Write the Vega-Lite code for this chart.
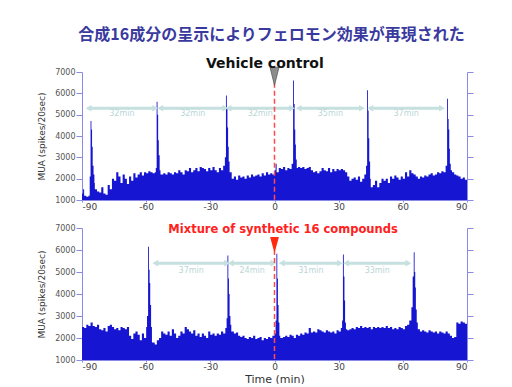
{
"$schema": "https://vega.github.io/schema/vega-lite/v6.json",
"background": "white",
"padding": {"left": 37, "top": 27, "right": 5, "bottom": 0},
"title": {"text": "合成16成分の呈示によりフェロモン効果が再現された", "font": "Noto Sans CJK JP", "fontSize": 16, "fontWeight": "bold", "color": "#3a3a9e", "anchor": "middle", "dx": 16, "offset": 14},
"spacing": 13,
"datasets": {
"vehicle": [
{"t":-90,"v":1300},{"t":-89.5,"v":1500},{"t":-89,"v":1200},{"t":-88,"v":1150},{"t":-87,"v":1200},{"t":-86.4,"v":2100},{"t":-86,"v":4700},{"t":-85.6,"v":4300},{"t":-85.3,"v":3500},{"t":-85,"v":2600},{"t":-84.6,"v":2200},{"t":-84.2,"v":1800},{"t":-84,"v":1500},{"t":-83,"v":1400},{"t":-82,"v":1350},{"t":-81,"v":1600},{"t":-80,"v":1300},{"t":-79,"v":1250},{"t":-78,"v":1700},{"t":-77,"v":1500},{"t":-76,"v":2000},{"t":-75,"v":1900},{"t":-74,"v":2300},{"t":-73,"v":2100},{"t":-72,"v":1800},{"t":-71,"v":2200},{"t":-70,"v":2000},{"t":-69,"v":1750},{"t":-68,"v":2100},{"t":-67,"v":1900},{"t":-66,"v":2250},{"t":-65,"v":2050},{"t":-64,"v":2200},{"t":-63,"v":2300},{"t":-62,"v":2150},{"t":-61,"v":2300},{"t":-60,"v":2250},{"t":-59,"v":2350},{"t":-58,"v":2300},{"t":-57,"v":2250},{"t":-56,"v":2300},{"t":-55.5,"v":2500},{"t":-55.1,"v":5600},{"t":-54.7,"v":5000},{"t":-54.4,"v":3800},{"t":-54.1,"v":3100},{"t":-53.7,"v":2400},{"t":-53.3,"v":2200},{"t":-52,"v":2250},{"t":-51,"v":2200},{"t":-50,"v":2300},{"t":-49,"v":2250},{"t":-48,"v":2200},{"t":-47,"v":2300},{"t":-46,"v":2250},{"t":-45,"v":2400},{"t":-44,"v":2300},{"t":-43,"v":2200},{"t":-42,"v":2400},{"t":-41,"v":2350},{"t":-40,"v":2500},{"t":-39,"v":2300},{"t":-38,"v":2400},{"t":-37,"v":2500},{"t":-36,"v":2350},{"t":-35,"v":2550},{"t":-34,"v":2500},{"t":-33,"v":2450},{"t":-32,"v":2350},{"t":-31,"v":2500},{"t":-30,"v":2400},{"t":-29,"v":2550},{"t":-28,"v":2400},{"t":-27,"v":2300},{"t":-26,"v":2500},{"t":-25,"v":2400},{"t":-24,"v":2600},{"t":-23.2,"v":3000},{"t":-22.7,"v":5900},{"t":-22.3,"v":5300},{"t":-22,"v":4400},{"t":-21.7,"v":3500},{"t":-21.4,"v":2800},{"t":-21,"v":2300},{"t":-20,"v":2000},{"t":-19,"v":2100},{"t":-18,"v":1950},{"t":-17,"v":2150},{"t":-16,"v":2050},{"t":-15,"v":2100},{"t":-14,"v":2000},{"t":-13,"v":2150},{"t":-12,"v":2050},{"t":-11,"v":2200},{"t":-10,"v":2100},{"t":-9,"v":2150},{"t":-8,"v":2200},{"t":-7,"v":2100},{"t":-6,"v":2250},{"t":-5,"v":2150},{"t":-4,"v":2300},{"t":-3,"v":2200},{"t":-2,"v":2250},{"t":-1,"v":2200},{"t":0,"v":2400},{"t":0.5,"v":2700},{"t":1,"v":2300},{"t":2,"v":2500},{"t":3,"v":2450},{"t":4,"v":2550},{"t":5,"v":2400},{"t":6,"v":2500},{"t":7,"v":2450},{"t":8,"v":2700},{"t":8.7,"v":6600},{"t":9.1,"v":5500},{"t":9.4,"v":4300},{"t":9.7,"v":3600},{"t":10,"v":2900},{"t":10.4,"v":2500},{"t":11,"v":2550},{"t":12,"v":2500},{"t":13,"v":2550},{"t":14,"v":2450},{"t":15,"v":2500},{"t":16,"v":2550},{"t":17,"v":2400},{"t":18,"v":2300},{"t":19,"v":2350},{"t":20,"v":2250},{"t":21,"v":2350},{"t":22,"v":2500},{"t":23,"v":2400},{"t":24,"v":2350},{"t":25,"v":2500},{"t":26,"v":2300},{"t":27,"v":2450},{"t":28,"v":2350},{"t":29,"v":2450},{"t":30,"v":2400},{"t":31,"v":2450},{"t":32,"v":2400},{"t":33,"v":2300},{"t":34,"v":2100},{"t":35,"v":1900},{"t":36,"v":2000},{"t":37,"v":2050},{"t":38,"v":1950},{"t":39,"v":2100},{"t":40,"v":1850},{"t":41,"v":2000},{"t":42,"v":2200},{"t":42.8,"v":2600},{"t":43.3,"v":6150},{"t":43.7,"v":5200},{"t":44,"v":3900},{"t":44.3,"v":2800},{"t":44.7,"v":2000},{"t":45,"v":1600},{"t":46,"v":1700},{"t":47,"v":1900},{"t":48,"v":1600},{"t":49,"v":1800},{"t":50,"v":2000},{"t":51,"v":1900},{"t":52,"v":2000},{"t":53,"v":1800},{"t":54,"v":2100},{"t":55,"v":2000},{"t":56,"v":2150},{"t":57,"v":2050},{"t":58,"v":1950},{"t":59,"v":2100},{"t":60,"v":2000},{"t":61,"v":2300},{"t":62,"v":2100},{"t":63,"v":2400},{"t":64,"v":2250},{"t":65,"v":2200},{"t":66,"v":2100},{"t":67,"v":2000},{"t":68,"v":2100},{"t":69,"v":2050},{"t":70,"v":2150},{"t":71,"v":2100},{"t":72,"v":2200},{"t":73,"v":2250},{"t":74,"v":2150},{"t":75,"v":2200},{"t":76,"v":2300},{"t":77,"v":2250},{"t":78,"v":2350},{"t":79,"v":2300},{"t":80,"v":2600},{"t":80.7,"v":5750},{"t":81.1,"v":4800},{"t":81.4,"v":4300},{"t":81.7,"v":3400},{"t":82,"v":2700},{"t":82.4,"v":2400},{"t":83,"v":2300},{"t":84,"v":2200},{"t":85,"v":2150},{"t":86,"v":2100},{"t":87,"v":2000},{"t":88,"v":2050},{"t":89,"v":1950},{"t":90,"v":1950}
],
"mixture": [
{"t":-90,"v":2500},{"t":-89,"v":2450},{"t":-88,"v":2600},{"t":-87,"v":2550},{"t":-86,"v":2700},{"t":-85,"v":2550},{"t":-84,"v":2500},{"t":-83,"v":2600},{"t":-82,"v":2400},{"t":-81,"v":2350},{"t":-80,"v":2450},{"t":-79,"v":2300},{"t":-78,"v":2550},{"t":-77,"v":2600},{"t":-76,"v":2500},{"t":-75,"v":2400},{"t":-74,"v":2450},{"t":-73,"v":2350},{"t":-72,"v":2500},{"t":-71,"v":2450},{"t":-70,"v":2400},{"t":-69,"v":2500},{"t":-68,"v":2100},{"t":-67,"v":1950},{"t":-66,"v":2200},{"t":-65,"v":2300},{"t":-64,"v":2150},{"t":-63,"v":1900},{"t":-62,"v":2200},{"t":-61,"v":2000},{"t":-60,"v":2500},{"t":-59.6,"v":3000},{"t":-59.1,"v":6150},{"t":-58.7,"v":5100},{"t":-58.4,"v":4500},{"t":-58.1,"v":3500},{"t":-57.7,"v":2500},{"t":-57.3,"v":1800},{"t":-56,"v":1700},{"t":-55,"v":1900},{"t":-54,"v":2000},{"t":-53,"v":2300},{"t":-52,"v":2200},{"t":-51,"v":2150},{"t":-50,"v":2300},{"t":-49,"v":2100},{"t":-48,"v":2400},{"t":-47,"v":2200},{"t":-46,"v":2000},{"t":-45,"v":2100},{"t":-44,"v":2300},{"t":-43,"v":2200},{"t":-42,"v":2500},{"t":-41,"v":2400},{"t":-40,"v":2300},{"t":-39,"v":2200},{"t":-38,"v":2350},{"t":-37,"v":2100},{"t":-36,"v":2200},{"t":-35,"v":2050},{"t":-34,"v":2200},{"t":-33,"v":2100},{"t":-32,"v":2000},{"t":-31,"v":2300},{"t":-30,"v":2150},{"t":-29,"v":2200},{"t":-28,"v":2100},{"t":-27,"v":2200},{"t":-26,"v":2150},{"t":-25,"v":2300},{"t":-24,"v":2200},{"t":-23,"v":2450},{"t":-22.4,"v":2900},{"t":-22,"v":5750},{"t":-21.6,"v":4700},{"t":-21.3,"v":4000},{"t":-21,"v":3000},{"t":-20.6,"v":2600},{"t":-20.2,"v":2300},{"t":-19,"v":2200},{"t":-18,"v":2250},{"t":-17,"v":2100},{"t":-16,"v":2050},{"t":-15,"v":2100},{"t":-14,"v":2000},{"t":-13,"v":1950},{"t":-12,"v":2050},{"t":-11,"v":2000},{"t":-10,"v":2100},{"t":-9,"v":1950},{"t":-8,"v":2000},{"t":-7,"v":2050},{"t":-6,"v":1900},{"t":-5,"v":2000},{"t":-4,"v":1950},{"t":-3,"v":2050},{"t":-2,"v":2000},{"t":-1,"v":2100},{"t":0,"v":2200},{"t":0.5,"v":2800},{"t":0.9,"v":5830},{"t":1.3,"v":4700},{"t":1.6,"v":3500},{"t":1.9,"v":2700},{"t":2.3,"v":2100},{"t":2.7,"v":2000},{"t":4,"v":2050},{"t":5,"v":2100},{"t":6,"v":2050},{"t":7,"v":2150},{"t":8,"v":2100},{"t":9,"v":2000},{"t":10,"v":2150},{"t":11,"v":2100},{"t":12,"v":2200},{"t":13,"v":2150},{"t":14,"v":2250},{"t":15,"v":2200},{"t":16,"v":2450},{"t":17,"v":2250},{"t":18,"v":2300},{"t":19,"v":2250},{"t":20,"v":2400},{"t":21,"v":2350},{"t":22,"v":2300},{"t":23,"v":2250},{"t":24,"v":2350},{"t":25,"v":2300},{"t":26,"v":2250},{"t":27,"v":2300},{"t":28,"v":2200},{"t":29,"v":2350},{"t":30,"v":2300},{"t":31,"v":2450},{"t":31.6,"v":2800},{"t":32,"v":5800},{"t":32.4,"v":4800},{"t":32.7,"v":3700},{"t":33,"v":2700},{"t":33.4,"v":2400},{"t":34,"v":2350},{"t":35,"v":2400},{"t":36,"v":2450},{"t":37,"v":2400},{"t":38,"v":2500},{"t":39,"v":2450},{"t":40,"v":2550},{"t":41,"v":2450},{"t":42,"v":2500},{"t":43,"v":2450},{"t":44,"v":2500},{"t":45,"v":2400},{"t":46,"v":2500},{"t":47,"v":2450},{"t":48,"v":2500},{"t":49,"v":2450},{"t":50,"v":2500},{"t":51,"v":2450},{"t":52,"v":2550},{"t":53,"v":2450},{"t":54,"v":2500},{"t":55,"v":2400},{"t":56,"v":2450},{"t":57,"v":2400},{"t":58,"v":2500},{"t":59,"v":2450},{"t":60,"v":2400},{"t":61,"v":2550},{"t":62,"v":2600},{"t":63,"v":2800},{"t":64,"v":3400},{"t":64.6,"v":4800},{"t":65.1,"v":5900},{"t":65.5,"v":5000},{"t":65.8,"v":4300},{"t":66.1,"v":3300},{"t":66.5,"v":2700},{"t":67,"v":2400},{"t":68,"v":2300},{"t":69,"v":2350},{"t":70,"v":2300},{"t":71,"v":2250},{"t":72,"v":2350},{"t":73,"v":2300},{"t":74,"v":2250},{"t":75,"v":2300},{"t":76,"v":2200},{"t":77,"v":2300},{"t":78,"v":2250},{"t":79,"v":2200},{"t":80,"v":2300},{"t":81,"v":2200},{"t":82,"v":2100},{"t":83,"v":2000},{"t":84,"v":2050},{"t":85,"v":2700},{"t":86,"v":2650},{"t":87,"v":2750},{"t":88,"v":2700},{"t":89,"v":2650},{"t":90,"v":2550}
],
"arrows1": [
{"a":-86.9,"b":-55.8,"m":-71.35,"label":"32min"},{"a":-53.4,"b":-23.0,"m":-38.2,"label":"32min"},{"a":-21.5,"b":8.2,"m":-6.65,"label":"32min"},{"a":11.3,"b":40.9,"m":26.1,"label":"35min"},{"a":44.8,"b":78.3,"m":61.55,"label":"37min"}
],
"arrows2": [
{"a":-55.7,"b":-22.2,"m":-38.95,"label":"37min"},{"a":-20.4,"b":-0.5,"m":-10.45,"label":"24min"},{"a":3.4,"b":30.6,"m":17,"label":"31min"},{"a":33.5,"b":62.6,"m":48.05,"label":"33min"}
]
},
"vconcat": [
{
"width": 385, "height": 128,
"resolve": {"axis": {"y": "independent"}},
"layer": [
{"data": {"name": "vehicle"}, "mark": {"type": "area", "interpolate": "step-after", "color": "#1616d2", "clip": true},
 "encoding": {
  "x": {"field": "t", "type": "quantitative", "scale": {"domain": [-90, 90], "nice": false, "zero": false}, "axis": {"values": [-90,-60,-30,0,30,60,90], "title": null, "labelExpr": "replace(datum.label, '−', '-')"}},
  "y": {"field": "v", "type": "quantitative", "scale": {"domain": [1000, 7000], "nice": false, "zero": false}, "axis": {"orient": "left", "title": "MUA (spikes/20sec)", "values": [1000,2000,3000,4000,5000,6000,7000], "format": "d"}},
  "y2": {"datum": 1000}}},
{"data": {"name": "vehicle"}, "mark": {"type": "area", "interpolate": "step-after", "opacity": 0},
 "encoding": {
  "x": {"field": "t", "type": "quantitative"},
  "y": {"field": "v", "type": "quantitative", "axis": {"orient": "right", "title": null, "labels": false, "values": [1000,2000,3000,4000,5000,6000,7000]}},
  "y2": {"datum": 1000}}},
{"data": {"name": "arrows1"}, "mark": {"type": "rule", "color": "#c6dfdf", "strokeWidth": 3},
 "encoding": {"x": {"field": "a", "type": "quantitative"}, "x2": {"field": "b"}, "y": {"datum": 5300, "axis": null}}},
{"data": {"name": "arrows1"}, "mark": {"type": "point", "shape": "triangle-left", "filled": true, "color": "#c6dfdf", "size": 45, "opacity": 1},
 "encoding": {"x": {"field": "a", "type": "quantitative"}, "y": {"datum": 5300, "axis": null}}},
{"data": {"name": "arrows1"}, "mark": {"type": "point", "shape": "triangle-right", "filled": true, "color": "#c6dfdf", "size": 45, "opacity": 1},
 "encoding": {"x": {"field": "b", "type": "quantitative"}, "y": {"datum": 5300, "axis": null}}},
{"data": {"name": "arrows1"}, "mark": {"type": "text", "color": "#b9d6d6", "fontSize": 8, "font": "DejaVu Sans", "baseline": "top", "dy": 2},
 "encoding": {"x": {"field": "m", "type": "quantitative"}, "y": {"datum": 5300, "axis": null}, "text": {"field": "label"}}},
{"data": {"values": [{}]}, "mark": {"type": "rule", "color": "#ff4a4a", "strokeWidth": 1.5, "strokeDash": [5, 3]},
 "encoding": {"x": {"datum": 0}, "y": {"datum": 6500, "axis": null}, "y2": {"datum": 1000}}},
{"data": {"values": [{}]}, "mark": {"type": "point", "shape": "M-0.5,-1L0.5,-1L0,1Z", "filled": true, "color": "#8c8c8c", "stroke": "#5a5a5a", "strokeWidth": 0.8, "size": 324, "opacity": 1},
 "encoding": {"x": {"datum": 0}, "y": {"datum": 6800, "axis": null}}},
{"data": {"values": [{}]}, "mark": {"type": "text", "text": "Vehicle control", "font": "DejaVu Sans", "fontWeight": "bold", "fontSize": 14, "color": "#111", "baseline": "bottom", "dy": -1},
 "encoding": {"x": {"datum": -4.5}, "y": {"datum": 7000, "axis": null}}}
]
},
{
"width": 385, "height": 132,
"resolve": {"axis": {"y": "independent"}},
"layer": [
{"data": {"name": "mixture"}, "mark": {"type": "area", "interpolate": "step-after", "color": "#1616d2", "clip": true},
 "encoding": {
  "x": {"field": "t", "type": "quantitative", "scale": {"domain": [-90, 90], "nice": false, "zero": false}, "axis": {"values": [-90,-60,-30,0,30,60,90], "title": "Time (min)", "labelExpr": "replace(datum.label, '−', '-')"}},
  "y": {"field": "v", "type": "quantitative", "scale": {"domain": [1000, 7000], "nice": false, "zero": false}, "axis": {"orient": "left", "title": "MUA (spikes/20sec)", "values": [1000,2000,3000,4000,5000,6000,7000], "format": "d"}},
  "y2": {"datum": 1000}}},
{"data": {"name": "mixture"}, "mark": {"type": "area", "interpolate": "step-after", "opacity": 0},
 "encoding": {
  "x": {"field": "t", "type": "quantitative"},
  "y": {"field": "v", "type": "quantitative", "axis": {"orient": "right", "title": null, "labels": false, "values": [1000,2000,3000,4000,5000,6000,7000]}},
  "y2": {"datum": 1000}}},
{"data": {"name": "arrows2"}, "mark": {"type": "rule", "color": "#c6dfdf", "strokeWidth": 3},
 "encoding": {"x": {"field": "a", "type": "quantitative"}, "x2": {"field": "b"}, "y": {"datum": 5400, "axis": null}}},
{"data": {"name": "arrows2"}, "mark": {"type": "point", "shape": "triangle-left", "filled": true, "color": "#c6dfdf", "size": 45, "opacity": 1},
 "encoding": {"x": {"field": "a", "type": "quantitative"}, "y": {"datum": 5400, "axis": null}}},
{"data": {"name": "arrows2"}, "mark": {"type": "point", "shape": "triangle-right", "filled": true, "color": "#c6dfdf", "size": 45, "opacity": 1},
 "encoding": {"x": {"field": "b", "type": "quantitative"}, "y": {"datum": 5400, "axis": null}}},
{"data": {"name": "arrows2"}, "mark": {"type": "text", "color": "#b9d6d6", "fontSize": 8, "font": "DejaVu Sans", "baseline": "top", "dy": 4},
 "encoding": {"x": {"field": "m", "type": "quantitative"}, "y": {"datum": 5400, "axis": null}, "text": {"field": "label"}}},
{"data": {"values": [{}]}, "mark": {"type": "rule", "color": "#ff4a4a", "strokeWidth": 1.5, "strokeDash": [5, 3]},
 "encoding": {"x": {"datum": 0}, "y": {"datum": 6000, "axis": null}, "y2": {"datum": 1000}}},
{"data": {"values": [{}]}, "mark": {"type": "point", "shape": "M-0.55,-1L0.55,-1L0,1Z", "filled": true, "color": "#ff2a10", "size": 256, "opacity": 1},
 "encoding": {"x": {"datum": 0}, "y": {"datum": 6230, "axis": null}}},
{"data": {"values": [{}]}, "mark": {"type": "text", "text": "Mixture of synthetic 16 compounds", "font": "DejaVu Sans", "fontWeight": "bold", "fontSize": 11.5, "color": "#ff2020", "baseline": "bottom", "dy": 7},
 "encoding": {"x": {"datum": 4}, "y": {"datum": 7000, "axis": null}}}
]
}
],
"config": {
"view": {"stroke": null},
"axis": {"grid": false, "labelFont": "DejaVu Sans", "titleFont": "DejaVu Sans", "domainColor": "#8a8ae6", "tickColor": "#8a8ae6"},
"axisY": {"labelFontSize": 8, "labelColor": "#555", "tickSize": 6, "labelPadding": 1, "titleFontSize": 9, "titleFontWeight": "normal", "titleColor": "#333", "titlePadding": 8},
"axisX": {"labelFontSize": 9, "labelColor": "#444", "tickSize": 2, "labelPadding": 0, "titleFontSize": 11, "titleFontWeight": "normal", "titleColor": "#333", "titlePadding": 2}
}
}
